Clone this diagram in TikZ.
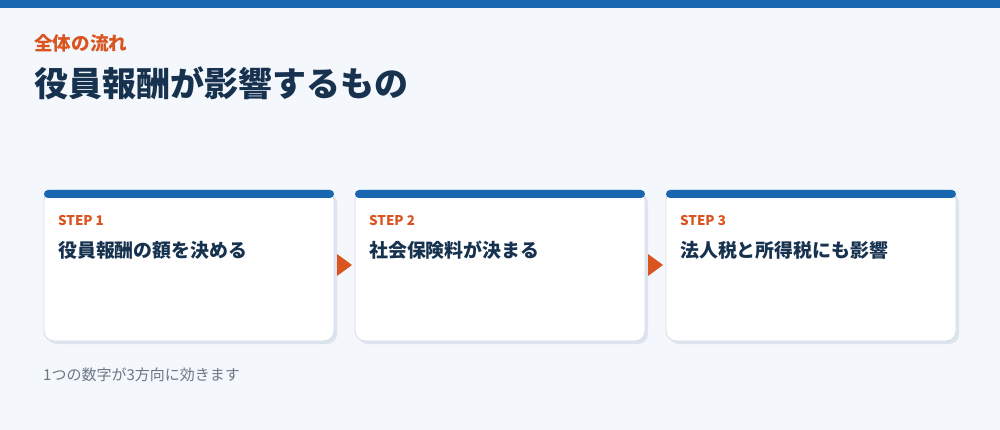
\documentclass[tikz,border=0pt]{standalone}
\usepackage{fontspec}
\setmainfont{Noto Sans CJK JP}
\newfontfamily\cjk{Noto Sans CJK JP}
\definecolor{bg}{HTML}{F4F7FB}
\definecolor{topblue}{HTML}{1A67B1}
\definecolor{accent}{HTML}{D9541E}
\definecolor{navy}{HTML}{17324F}
\definecolor{shadowc}{HTML}{DDE4ED}
\definecolor{cardline}{HTML}{D3DCE6}
\definecolor{muted}{HTML}{6B7785}
\tikzset{
  cardshadow/.style={fill=shadowc, rounded corners=10pt},
  cardbody/.style={fill=white, draw=cardline, line width=0.8pt, rounded corners=10pt},
  cardbar/.style={fill=topblue, rounded corners=4pt},
  steplabel/.style={anchor=west, inner sep=0pt, text=accent, font=\cjk\bfseries\fontsize{13.4}{16}\selectfont},
  steptitle/.style={anchor=west, inner sep=0pt, text=navy, font=\cjk\bfseries\fontsize{18.9}{23}\selectfont},
  flowarrow/.style={fill=accent, draw=none}
}
\begin{document}
\begin{tikzpicture}[x=1pt,y=-1pt]
\useasboundingbox (0,0) rectangle (1000,430);
\fill[bg] (0,0) rectangle (1000,430);
\fill[topblue] (0,0) rectangle (1000,8);
\node[anchor=west, inner sep=0pt, text=accent, font=\cjk\bfseries\fontsize{18.6}{22}\selectfont] (kicker) at (34,43) {全体の流れ};
\node[anchor=west, inner sep=0pt, text=navy, font=\cjk\bfseries\fontsize{34}{40}\selectfont] (title) at (34,83) {役員報酬が影響するもの};
\foreach \i/\x/\lab/\txt in {1/44/STEP 1/役員報酬の額を決める, 2/355/STEP 2/社会保険料が決まる, 3/666/STEP 3/法人税と所得税にも影響}{
  \fill[cardshadow] (\x+3,193) rectangle (\x+293,344);
  \draw[cardbody] (\x,190) rectangle (\x+290,341);
  \fill[cardbar] (\x,190) rectangle (\x+290,198);
  \node[steplabel] (s\i) at (\x+14,221) {\lab};
  \node[steptitle] (t\i) at (\x+14,250) {\txt};
  \coordinate (c\i) at (\x+145,265);
}
\fill[flowarrow] (337,254) -- (352,265) -- (337,276) -- cycle;
\fill[flowarrow] (648,254) -- (663,265) -- (648,276) -- cycle;
\node[anchor=west, inner sep=0pt, text=muted, font=\cjk\fontsize{15}{18}\selectfont] (note) at (43,375) {1つの数字が3方向に効きます};
\end{tikzpicture}
\end{document}
